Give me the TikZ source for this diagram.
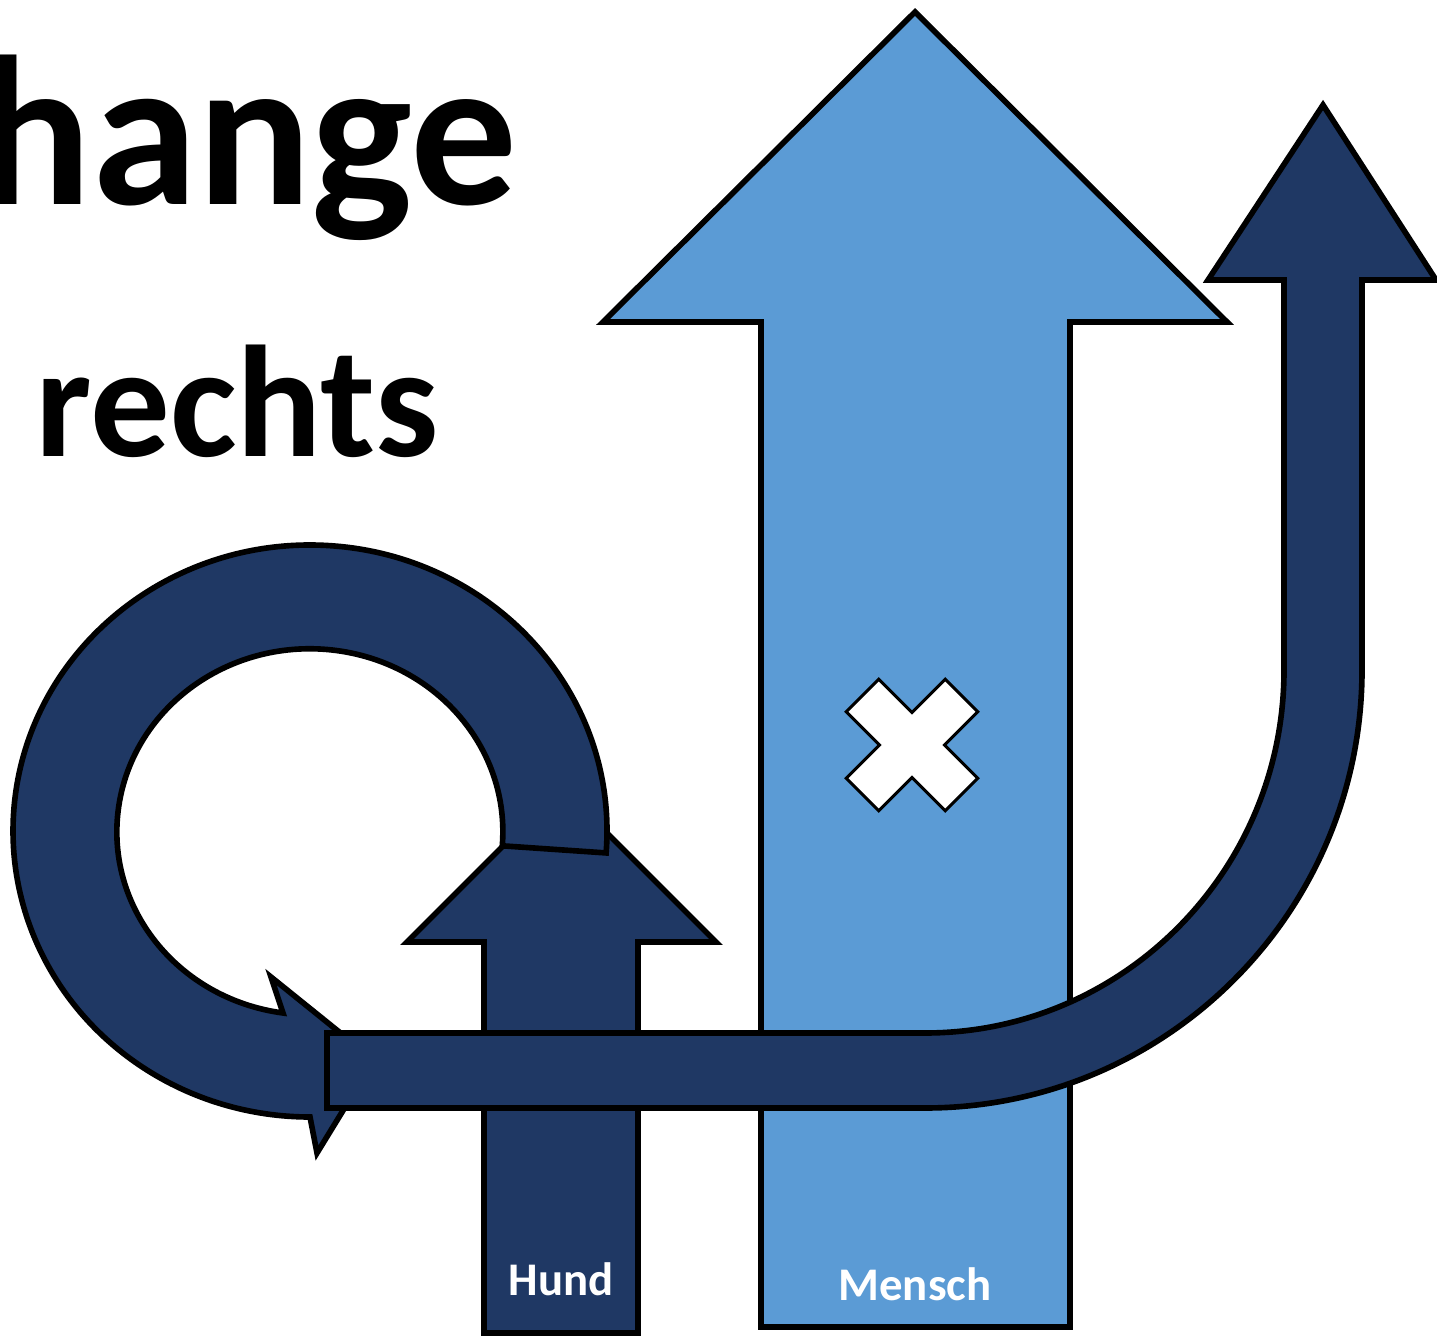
\documentclass[tikz,border=0pt]{standalone}
\usepackage{fontspec}
\setmainfont{Carlito}
\usepackage{tikz}
\definecolor{navy}{RGB}{31,56,100}
\definecolor{skyblue}{RGB}{91,155,213}

\begin{document}
\begin{tikzpicture}[x=0.01cm,y=0.01cm,
    darkarrow/.style={fill=navy,draw=black,line width=1.6pt},
    lightarrow/.style={fill=skyblue,draw=black,line width=1.6pt},
    arrowtext/.style={text=white,inner sep=0pt,anchor=base,font=\bfseries\fontsize{13.3}{16}\selectfont}]
    \useasboundingbox (0,0) rectangle (1437,1336);
    % Draw the titles
    \node[anchor=base west,inner sep=0pt,font=\bfseries\fontsize{60.6}{72}\selectfont] (title) at (-23,1131) {hange};
    \node[anchor=base west,inner sep=0pt,font=\bfseries\fontsize{45.2}{54}\selectfont] (subtitle) at (35,879) {rechts};
    % Draw the Mensch arrow and its cross
    \draw[lightarrow] (761,9) -- (761,1014) -- (603,1014) -- (915,1324) -- (1227,1014) -- (1070,1014) -- (1070,9) -- cycle;
    \node[arrowtext] (mensch) at (915,36) {Mensch};
    \draw[fill=white,line width=0.85pt,shift={(912,591)},rotate=45]
      (23,23) -- (70,23) -- (70,-23) -- (23,-23) -- (23,-70) -- (-23,-70) -- (-23,-23)
      -- (-70,-23) -- (-70,23) -- (-23,23) -- (-23,70) -- (23,70) -- cycle;
    % Draw the Hund arrow
    \draw[darkarrow] (484,3) -- (484,394) -- (407,394) -- (561.5,548.5) -- (716,394) -- (638,394) -- (638,3) -- cycle;
    \node[arrowtext] (hund) at (561,41) {Hund};
    % Draw the loop
    \draw[darkarrow] (310,505) ++(-4.4:297 and 286)
      arc[start angle=-4.4,end angle=270,x radius=297,y radius=286]
      -- (317,183) -- (374,276) -- (271,359) -- (283,323)
      arc[start angle=262,end angle=-4.4,x radius=193,y radius=183] -- cycle;
    % Draw the bent arrow
    \draw[darkarrow] (327,303) -- (925,303)
      arc[start angle=-90,end angle=0,x radius=359,y radius=363]
      -- (1284,1056) -- (1208,1056) -- (1323,1231) -- (1436,1056) -- (1362,1056) -- (1362,666)
      arc[start angle=0,end angle=-90,x radius=437,y radius=438]
      -- (327,228) -- cycle;
\end{tikzpicture}
\end{document}
